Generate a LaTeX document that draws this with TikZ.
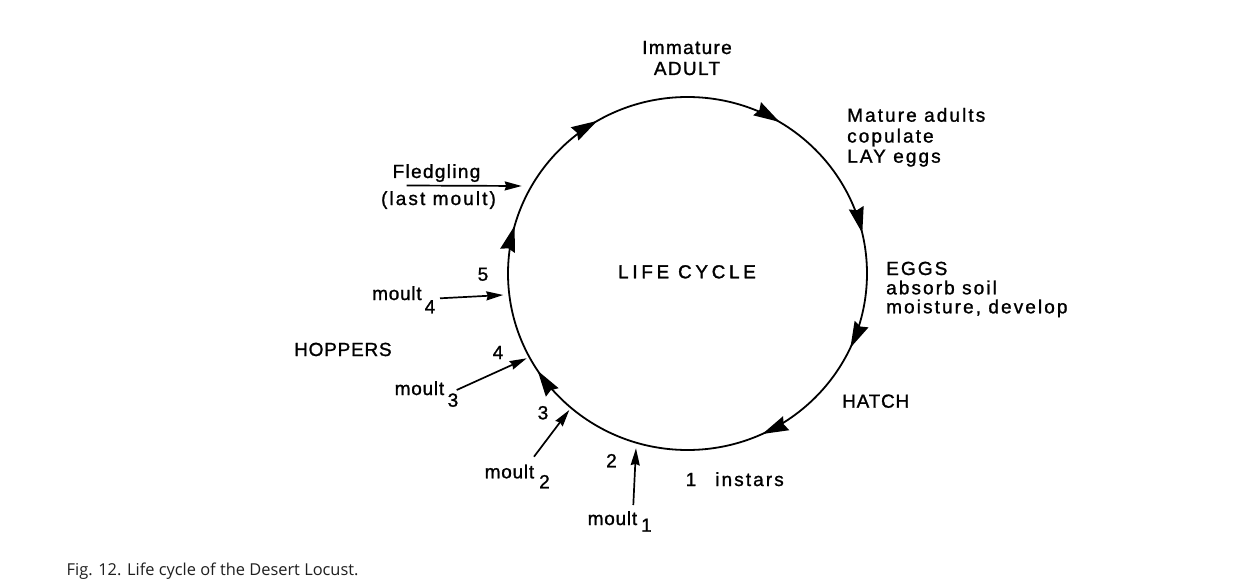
\documentclass[tikz,border=0pt]{standalone}
\usepackage{fontspec}
\setmainfont{Liberation Sans}
\newfontfamily\fA[LetterSpace=4,FakeBold=1.2]{Liberation Sans}
\newfontfamily\fB[LetterSpace=7,FakeBold=1.2]{Liberation Sans}
\newfontfamily\fC[LetterSpace=11,FakeBold=1.2]{Liberation Sans}
\newfontfamily\fD[LetterSpace=20,FakeBold=1.5]{Liberation Sans}
\newfontfamily\capfont{Open Sans}
\usetikzlibrary{arrows.meta,decorations.markings}
\tikzset{
  cyctip/.tip={Stealth[length=26pt,width=15pt,inset=2.5pt]},
  lblA/.style={inner sep=0pt, font=\fA\fontsize{19}{21}\selectfont},
  lblB/.style={inner sep=0pt, font=\fB\fontsize{19}{21}\selectfont},
  lblC/.style={inner sep=0pt, font=\fC\fontsize{19}{20.5}\selectfont},
  lblD/.style={inner sep=0pt, font=\fD\fontsize{18.8}{21}\selectfont},
  ptr/.style={line width=1.7pt, -{Stealth[length=17pt,width=9pt,inset=1.5pt]}},
}
\begin{document}
\begin{tikzpicture}[x=1pt,y=-1pt]
\path[use as bounding box, fill=white] (0,0) rectangle (1235,583);

% life cycle circle with direction arrows (clockwise)
\coordinate (c) at (687.5,273.5);
\draw[line width=1.8pt, postaction={decorate, decoration={markings,
    mark=at position 0.0364 with {\arrowreversed{cyctip}},
    mark=at position 0.1636 with {\arrowreversed{cyctip}},
    mark=at position 0.3344 with {\arrowreversed{cyctip}},
    mark=at position 0.4567 with {\arrowreversed{cyctip}},
    mark=at position 0.5922 with {\arrowreversed{cyctip}},
    mark=at position 0.8189 with {\arrowreversed{cyctip}},
    mark=at position 0.9314 with {\arrowreversed{cyctip}}}}]
  (c) ellipse [x radius=179.5pt, y radius=176.5pt];

% labels
\node[lblD, anchor=base] (life) at (687,278.3) {LIFE CYCLE};
\node[lblB, anchor=base] (imm) at (687,54) {Immature};
\node[lblB, anchor=base] (adult) at (687,75) {ADULT};
\node[lblC, anchor=base west] (mat1) at (847,121.7) {Mature adults};
\node[lblC, anchor=base west] (mat2) at (847,142.5) {copulate};
\node[lblC, anchor=base west] (mat3) at (847,162.7) {LAY eggs};
\node[lblC, anchor=base west] (egg1) at (886,275) {EGGS};
\node[lblC, anchor=base west] (egg2) at (886,294.3) {absorb soil};
\node[lblC, anchor=base west] (egg3) at (886,313.3) {moisture, develop};
\node[lblA, anchor=base west] (hatch) at (842,407.7) {HATCH};
\node[lblC, anchor=base west] (inst) at (685.5,486) {1\hspace{19pt}instars};
\node[lblA, anchor=base west] (hop) at (294,356) {HOPPERS};
\node[lblB, anchor=base] (fledge) at (436.5,178) {Fledgling};
\node[lblC, anchor=base] (last) at (438.5,205) {(last moult)};

% instar numbers
\node[lblA, anchor=base west] (n2) at (606,467.3) {2};
\node[lblA, anchor=base west] (n3) at (537.5,419.3) {3};
\node[lblA, anchor=base west] (n4) at (492.5,359) {4};
\node[lblA, anchor=base west] (n5) at (477.5,280.7) {5};

% moult labels
\node[lblA, anchor=base west] (m1) at (587.5,525) {moult\hspace{4pt}\raisebox{-6.7pt}{1}};
\node[lblA, anchor=base west] (m2) at (484.5,478.3) {moult\hspace{5pt}\raisebox{-10pt}{2}};
\node[lblA, anchor=base west] (m3) at (394.5,395) {moult\hspace{3.5pt}\raisebox{-11.7pt}{3}};
\node[lblA, anchor=base west] (m4) at (372,300) {moult\hspace{3pt}\raisebox{-13.3pt}{4}};

% pointer ends
\coordinate (f0) at (406.7,185.5); \coordinate (f1) at (521.7,186);
\coordinate (a40) at (440,298.3);  \coordinate (a41) at (503.3,295);
\coordinate (a30) at (456.7,390);  \coordinate (a31) at (526.7,358.3);
\coordinate (a20) at (534,456.7);  \coordinate (a21) at (569.3,410);
\coordinate (a10) at (633.3,505);  \coordinate (a11) at (636,448.3);

\draw[ptr] (f0) -- (f1);
\draw[ptr] (a40) -- (a41);
\draw[ptr] (a30) -- (a31);
\draw[ptr] (a20) -- (a21);
\draw[ptr] (a10) -- (a11);

% caption
\node[anchor=base west, inner sep=0pt, font=\capfont\fontsize{16.4}{19}\selectfont, text=black!88] (cap) at (66.5,575) {Fig. 12. Life cycle of the Desert Locust.};
\end{tikzpicture}
\end{document}
